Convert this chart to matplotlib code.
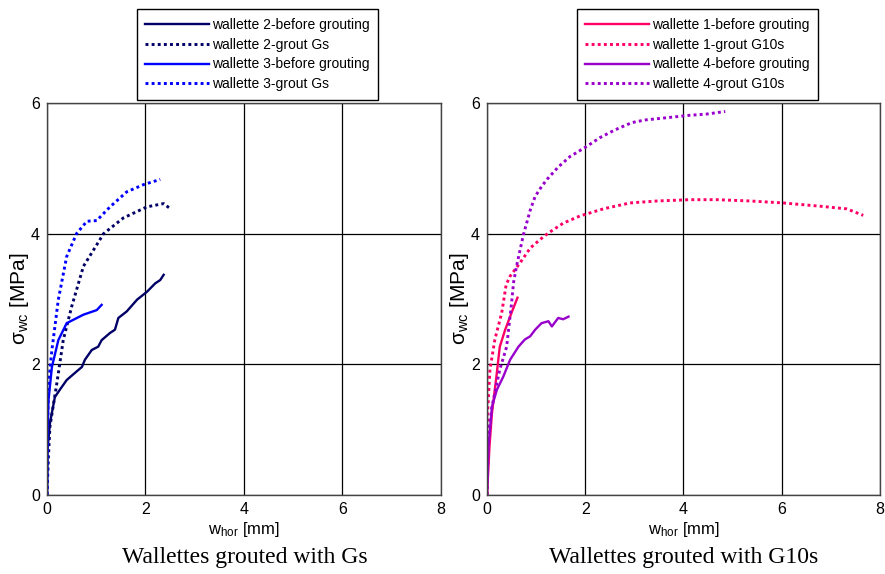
import matplotlib
matplotlib.use("Agg")
import matplotlib.pyplot as plt


# wallettes grouted with Gs
w2_before_x = [0, 0.01, 0.06, 0.16, 0.26, 0.4, 0.6, 0.71, 0.77, 0.91, 1.04, 1.11, 1.28, 1.38, 1.45, 1.62, 1.83, 2.03, 2.2, 2.3, 2.37]
w2_before_y = [0, 0.69, 1.1, 1.5, 1.61, 1.76, 1.89, 1.96, 2.07, 2.22, 2.27, 2.37, 2.48, 2.53, 2.71, 2.81, 2.99, 3.11, 3.24, 3.29, 3.37]
w2_grout_x = [0, 0.03, 0.06, 0.2, 0.33, 0.5, 0.74, 1.15, 1.55, 2.03, 2.37, 2.49]
w2_grout_y = [0, 0.6, 1.05, 1.71, 2.37, 2.88, 3.5, 4.0, 4.24, 4.41, 4.46, 4.39]
w3_before_x = [0, 0.01, 0.03, 0.1, 0.23, 0.4, 0.74, 1.01, 1.11]
w3_before_y = [0, 0.9, 1.45, 1.96, 2.37, 2.63, 2.76, 2.83, 2.91]
w3_grout_x = [0, 0.01, 0.03, 0.1, 0.23, 0.4, 0.6, 0.81, 1.01, 1.28, 1.62, 1.96, 2.3]
w3_grout_y = [0, 1.0, 1.71, 2.22, 2.99, 3.65, 4.0, 4.19, 4.2, 4.41, 4.64, 4.75, 4.83]

# wallettes grouted with G10s
w1_before_x = [0, 0.05, 0.1, 0.2, 0.26, 0.37, 0.5, 0.62]
w1_before_y = [0, 0.74, 1.25, 1.87, 2.27, 2.53, 2.79, 3.02]
w1_grout_x = [0, 0.01, 0.06, 0.16, 0.3, 0.39, 0.47, 0.67, 0.88, 1.08, 1.25, 1.55, 1.89, 2.37, 2.91,
              3.46, 4.13, 4.68, 5.36, 6.03, 6.78, 7.32, 7.66]
w1_grout_y = [0, 1.25, 1.92, 2.38, 2.79, 3.22, 3.35, 3.55, 3.78, 3.91, 4.01, 4.16, 4.27, 4.38, 4.47,
              4.5, 4.52, 4.52, 4.5, 4.47, 4.42, 4.38, 4.28]
w4_before_x = [0, 0.03, 0.1, 0.2, 0.33, 0.47, 0.64, 0.77, 0.88, 0.98, 1.11, 1.25, 1.32, 1.45, 1.55, 1.66]
w4_before_y = [0, 0.74, 1.35, 1.61, 1.81, 2.07, 2.27, 2.38, 2.43, 2.53, 2.63, 2.66, 2.58, 2.71, 2.69, 2.73]
w4_grout_x = [0, 0.03, 0.1, 0.26, 0.4, 0.5, 0.54, 0.6, 0.74, 0.88, 0.98, 1.11, 1.22, 1.45, 1.69, 2.02,
              2.3, 2.61, 2.95, 3.22, 3.73, 4.1, 4.47, 4.85]
w4_grout_y = [0, 0.95, 1.35, 1.92, 2.27, 2.94, 3.25, 3.5, 3.98, 4.36, 4.57, 4.72, 4.83, 5.02, 5.18, 5.33,
              5.47, 5.59, 5.7, 5.74, 5.78, 5.81, 5.83, 5.87]

NAVY = "#000066"
BLUE = "#0000ff"
PINK = "#ff0066"
PURPLE = "#9900cc"
DOTS = (0, (1.0, 1.1))

plt.rcParams["font.family"] = ["Liberation Sans", "DejaVu Sans"]
plt.rcParams["mathtext.fontset"] = "custom"
plt.rcParams["mathtext.rm"] = "Liberation Sans"
plt.rcParams["mathtext.it"] = "Liberation Sans"


def style_axes(ax):
    ax.set_xlim(0, 8)
    ax.set_ylim(0, 6)
    ax.set_xticks([0, 2, 4, 6, 8])
    ax.set_yticks([0, 2, 4, 6])
    ax.grid(True, color="black", linewidth=0.9)
    ax.tick_params(length=0, labelsize=11.5, pad=5)
    for s in ax.spines.values():
        s.set_color("#444444")
        s.set_linewidth(1.0)
    ax.set_xlabel("w$_{\\mathrm{hor}}$ [mm]", fontsize=12, labelpad=2)
    ax.set_ylabel("σ$_{\\mathrm{wc}}$ [MPa]", fontsize=15, labelpad=0)


fig = plt.figure(figsize=(8.85, 5.74), dpi=100)
ax1 = fig.add_axes([0.0531, 0.1376, 0.445, 0.683])
ax2 = fig.add_axes([0.5503, 0.1376, 0.444, 0.683])

ax1.plot(w2_before_x, w2_before_y, color=NAVY, lw=1.7, label="wallette 2-before grouting")
ax1.plot(w2_grout_x, w2_grout_y, color=NAVY, lw=2.1, ls=DOTS, label="wallette 2-grout Gs")
ax1.plot(w3_before_x, w3_before_y, color=BLUE, lw=1.7, label="wallette 3-before grouting")
ax1.plot(w3_grout_x, w3_grout_y, color=BLUE, lw=2.1, ls=DOTS, label="wallette 3-grout Gs")

ax2.plot(w1_before_x, w1_before_y, color=PINK, lw=1.7, label="wallette 1-before grouting")
ax2.plot(w1_grout_x, w1_grout_y, color=PINK, lw=2.1, ls=DOTS, label="wallette 1-grout G10s")
ax2.plot(w4_before_x, w4_before_y, color=PURPLE, lw=1.7, label="wallette 4-before grouting")
ax2.plot(w4_grout_x, w4_grout_y, color=PURPLE, lw=2.1, ls=DOTS, label="wallette 4-grout G10s")

for ax in (ax1, ax2):
    style_axes(ax)
    leg = ax.legend(loc="lower left", bbox_to_anchor=(0.228, 1.008), fontsize=10,
                    handlelength=4.6, handletextpad=0.2, labelspacing=0.42,
                    borderpad=0.62, fancybox=False, framealpha=1, borderaxespad=0)
    leg.get_frame().set_edgecolor("black")
    leg.get_frame().set_linewidth(1.0)

fig.text(0.277, 0.02, "Wallettes grouted with Gs", family="Liberation Serif",
         fontsize=17, ha="center", va="baseline")
fig.text(0.772, 0.02, "Wallettes grouted with G10s", family="Liberation Serif",
         fontsize=17, ha="center", va="baseline")

fig.savefig("out.png", dpi=100)
